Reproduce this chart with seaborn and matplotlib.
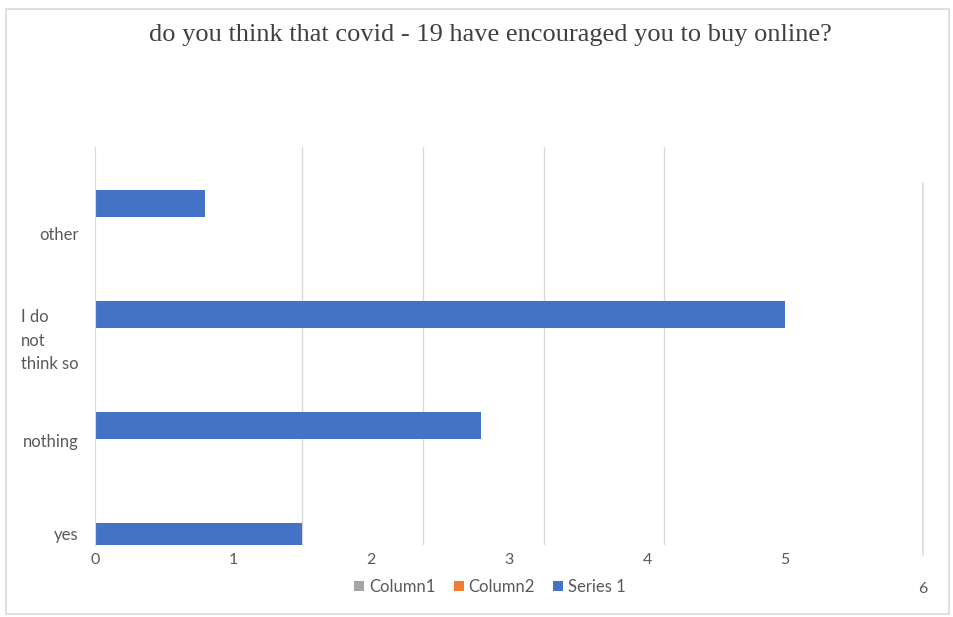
import matplotlib
matplotlib.use("Agg")
import matplotlib.pyplot as plt
import matplotlib.transforms as mtransforms
from matplotlib.patches import Rectangle
import pandas as pd
import seaborn as sns

# Survey answers, bottom to top as they appear on the chart
categories = ["yes", "nothing", "I do not think so", "other"]
tick_labels = ["yes", "nothing", "I do\nnot\nthink so", "other"]
series_names = ["Column1", "Column2", "Series 1"]
column1 = [0, 0, 0, 0]
column2 = [0, 0, 0, 0]
series1 = [1.5, 2.8, 5, 0.8]
x_ticks = [0, 1, 2, 3, 4, 5, 6]
grid_positions = [1.5, 2.375, 3.25, 4.125, 5]

colors = {"Column1": "#A5A5A5", "Column2": "#ED7D31", "Series 1": "#4472C4"}
text_gray = "#595959"
title_gray = "#404040"
line_gray = "#D9D9D9"

rows = []
for name, vals in zip(series_names, [column1, column2, series1]):
    for cat, v in zip(categories, vals):
        rows.append({"answer": cat, "count": v, "series": name})
df = pd.DataFrame(rows)

sns.set_style("white")
plt.rcParams["font.family"] = ["Lato", "DejaVu Sans"]

fig = plt.figure(figsize=(9.54, 6.17), dpi=100)
ax = fig.add_axes([95 / 954, 1 - 545 / 617, (930 - 95) / 954, (545 - 147) / 617])

sns.barplot(data=df, y="answer", x="count", hue="series", order=categories,
            hue_order=series_names, palette=colors, orient="h", saturation=1,
            errorbar=None, width=0.72, linewidth=0, ax=ax)

# x ticks (labels) and separate vertical gridlines
ax.set_xticks(x_ticks)
ax.set_xticklabels([str(t) for t in x_ticks])
ax.set_xticks(grid_positions, minor=True)
ax.grid(False)
ax.grid(True, which="minor", axis="x", color=line_gray, linewidth=1)
ax.axvline(6, ymin=-0.025, ymax=0.91, color=line_gray, linewidth=1.2, clip_on=False)
ax.tick_params(axis="x", which="both", length=0, pad=6, labelsize=11.5,
               labelcolor=text_gray)
ax.tick_params(axis="y", length=0, pad=12, labelsize=12, labelcolor=text_gray)

# category labels sit a little below the bars they name
label_nudge = [0.27, 0.1, 0.05, -0.03]
ax.set_yticks([i + n for i, n in enumerate(label_nudge)])
ax.set_yticklabels(tick_labels, multialignment="left", linespacing=1.55)

ax.set_xlim(0, 6.05)
ax.set_ylim(0.162, 3.748)

# last x label sits lower, next to the legend row
last = ax.get_xticklabels()[-1]
last.set_transform(last.get_transform() +
                   mtransforms.ScaledTranslation(0, -0.29, fig.dpi_scale_trans))

for side in ["top", "right", "bottom"]:
    ax.spines[side].set_visible(False)
ax.spines["left"].set_color(line_gray)
ax.set_xlabel("")
ax.set_ylabel("")

# legend below the plot
handles, labels = ax.get_legend_handles_labels()
ax.legend(handles, labels, loc="center", bbox_to_anchor=(490 / 954, 1 - 587 / 617),
          bbox_transform=fig.transFigure, ncol=3, frameon=False,
          handlelength=0.6, handleheight=0.6, handletextpad=0.3,
          columnspacing=1.1, fontsize=12, labelcolor=text_gray)

fig.text(490 / 954, 1 - 35 / 617,
         "do you think that covid - 19 have encouraged you to buy online?",
         ha="center", va="center", fontsize=19, color=title_gray,
         family="Liberation Serif")

fig.patches.append(Rectangle((6 / 954, 3 / 617), 943 / 954, 605 / 617,
                             transform=fig.transFigure, fill=False,
                             edgecolor=line_gray, linewidth=1.2))

fig.savefig("out.png", dpi=100)
